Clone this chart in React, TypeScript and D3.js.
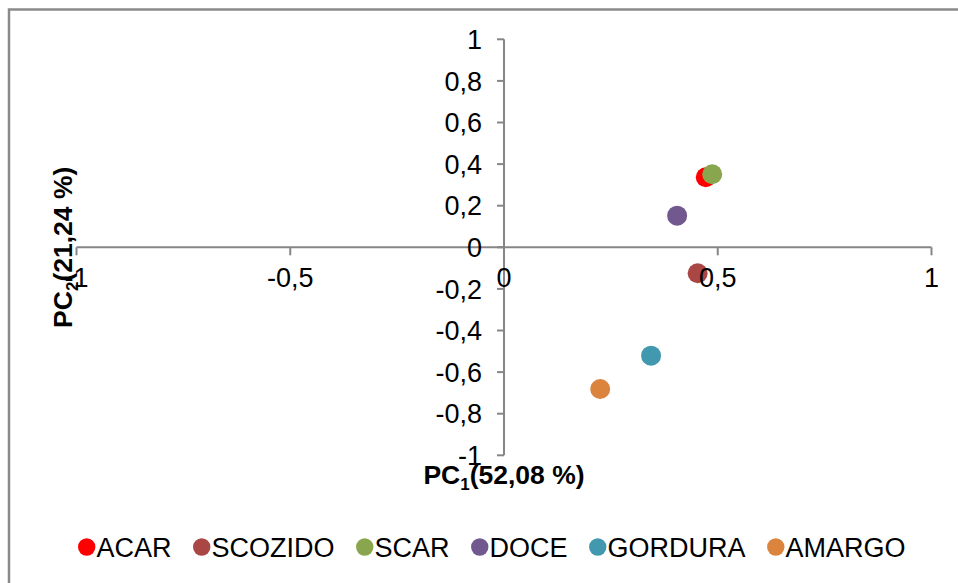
import React, { useEffect, useRef } from 'react'
import * as d3 from 'd3'

const labels = ['ACAR', 'SCOZIDO', 'SCAR', 'DOCE', 'GORDURA', 'AMARGO']
const colors = ['#ff0000', '#aa4643', '#89a54e', '#71588f', '#4198af', '#db843d']
const pc1 = [0.472, 0.453, 0.487, 0.405, 0.344, 0.225]
const pc2 = [0.337, -0.125, 0.351, 0.152, -0.521, -0.681]
const xTicks = [-1, -0.5, 0, 0.5, 1]
const yTicks = [-1, -0.8, -0.6, -0.4, -0.2, 0, 0.2, 0.4, 0.6, 0.8, 1]

const W = 958
const H = 583
const FONT = "'Liberation Sans', Arial, sans-serif"

const fmt = (v: number) => String(v).replace('.', ',')

export default function App() {
  const ref = useRef<SVGSVGElement>(null)

  useEffect(() => {
    const svg = d3.select(ref.current)
    svg.selectAll('*').remove()

    const x = d3.scaleLinear().domain([-1, 1]).range([76.5, 931.5])
    const y = d3.scaleLinear().domain([-1, 1]).range([455.3, 39.3])
    const axisColor = '#868686'

    // outer frame (runs past the window on right / bottom)
    svg.append('rect')
      .attr('x', 9).attr('y', 9.5)
      .attr('width', W + 40).attr('height', H + 40)
      .attr('fill', 'none').attr('stroke', '#8a8a8a').attr('stroke-width', 2.5)

    // x axis
    const gx = svg.append('g')
    gx.append('line')
      .attr('x1', x(-1)).attr('x2', x(1))
      .attr('y1', y(0)).attr('y2', y(0))
      .attr('stroke', axisColor).attr('stroke-width', 2)
    gx.selectAll('line.tick').data(xTicks).enter().append('line')
      .attr('class', 'tick')
      .attr('x1', d => x(d)).attr('x2', d => x(d))
      .attr('y1', y(0)).attr('y2', y(0) + 8)
      .attr('stroke', axisColor).attr('stroke-width', 2)

    // y axis
    const gy = svg.append('g')
    gy.append('line')
      .attr('x1', x(0)).attr('x2', x(0))
      .attr('y1', y(-1)).attr('y2', y(1))
      .attr('stroke', axisColor).attr('stroke-width', 2)
    gy.selectAll('line.tick').data(yTicks).enter().append('line')
      .attr('class', 'tick')
      .attr('x1', x(0) - 7).attr('x2', x(0))
      .attr('y1', d => y(d)).attr('y2', d => y(d))
      .attr('stroke', axisColor).attr('stroke-width', 2)

    // points
    svg.append('g').selectAll('circle').data(labels).enter().append('circle')
      .attr('cx', (d, i) => x(pc1[i]))
      .attr('cy', (d, i) => y(pc2[i]))
      .attr('r', 10)
      .attr('fill', (d, i) => colors[i])

    // tick labels (drawn over the points)
    svg.append('g').selectAll('text').data(yTicks).enter().append('text')
      .attr('x', x(0) - 22)
      .attr('y', d => y(d))
      .attr('dy', '0.36em')
      .attr('text-anchor', 'end')
      .attr('font-family', FONT).attr('font-size', 27)
      .text(d => fmt(d))

    svg.append('g').selectAll('text').data(xTicks).enter().append('text')
      .attr('x', d => x(d))
      .attr('y', y(0) + 40)
      .attr('text-anchor', 'middle')
      .attr('font-family', FONT).attr('font-size', 27)
      .text(d => fmt(d))

    // axis titles
    const tx = svg.append('text')
      .attr('x', x(0)).attr('y', 484)
      .attr('text-anchor', 'middle')
      .attr('font-family', FONT).attr('font-size', 26.5).attr('font-weight', 'bold')
    tx.append('tspan').text('PC')
    tx.append('tspan').attr('font-size', 17).attr('dy', 6).text('1')
    tx.append('tspan').attr('dy', -6).text('(52,08 %)')

    const ty = svg.append('text')
      .attr('transform', `translate(72,${y(0)}) rotate(-90)`)
      .attr('text-anchor', 'middle')
      .attr('font-family', FONT).attr('font-size', 26.5).attr('font-weight', 'bold')
    ty.append('tspan').text('PC')
    ty.append('tspan').attr('font-size', 17).attr('dy', 6).text('2')
    ty.append('tspan').attr('dy', -6).text('(21,24 %)')

    // legend
    const legend = svg.append('g')
    let lx = 78
    const ly = 547
    labels.forEach((name, i) => {
      legend.append('circle')
        .attr('cx', lx + 8.7).attr('cy', ly).attr('r', 8.7)
        .attr('fill', colors[i])
      const t = legend.append('text')
        .attr('x', lx + 18.5).attr('y', ly).attr('dy', '0.36em')
        .attr('font-family', FONT).attr('font-size', 27)
        .text(name)
      const tw = (t.node() as SVGTextElement).getComputedTextLength()
      lx += 18.5 + tw + 21.5
    })
  }, [])

  return (
    <svg
      ref={ref}
      width={W}
      height={H}
      style={{ position: 'absolute', left: 0, top: 0, display: 'block', overflow: 'hidden' }}
    />
  )
}
